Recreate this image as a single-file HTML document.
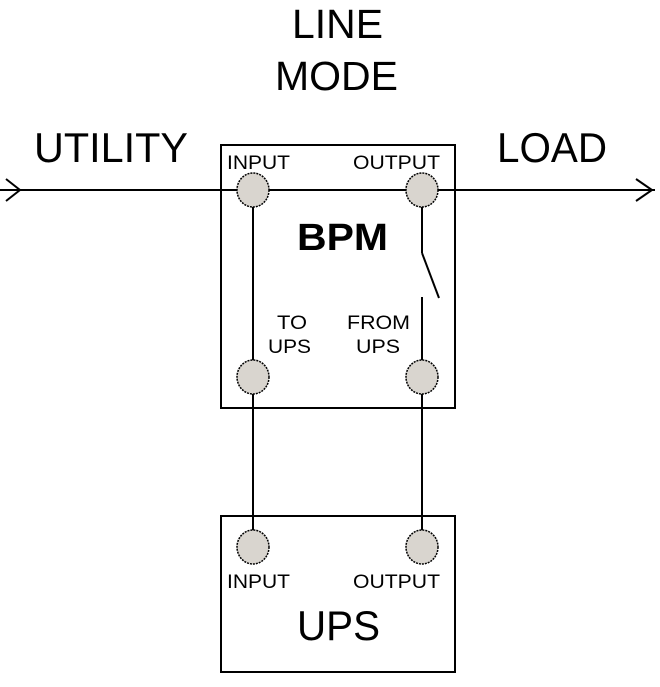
<!DOCTYPE html>
<html><head><style>body{margin:0;background:#fff}</style></head><body>
<svg width="660" height="682" xmlns="http://www.w3.org/2000/svg" font-family="Liberation Sans, Arial, sans-serif">
<rect width="660" height="682" fill="#fff"/>
<g stroke="#000" stroke-width="2" fill="none">
<rect x="221" y="145" width="234" height="263"/>
<rect x="221" y="516" width="234" height="156"/>
<line x1="0" y1="190" x2="655" y2="190"/>
<polyline points="6,179 20,190 6,201"/>
<polyline points="636,179 652,190 636,201"/>
<line x1="253" y1="190" x2="253" y2="531"/>
<line x1="422" y1="190" x2="422" y2="253"/>
<line x1="422" y1="253" x2="439" y2="298"/>
<line x1="422" y1="297" x2="422" y2="531"/>
</g>
<g fill="#d9d5cf" stroke="#000" stroke-width="1.5" stroke-dasharray="2,1">
<ellipse cx="253" cy="190" rx="16" ry="17"/><ellipse cx="422" cy="190" rx="16" ry="17"/>
<ellipse cx="253" cy="377" rx="16" ry="17"/><ellipse cx="422" cy="377" rx="16" ry="17"/>
<ellipse cx="253" cy="547" rx="16" ry="17"/><ellipse cx="422" cy="547" rx="16" ry="17"/>
</g>
<g fill="#000" lengthAdjust="spacingAndGlyphs">
<text x="292" y="38" font-size="41" textLength="91" lengthAdjust="spacingAndGlyphs">LINE</text>
<text x="275" y="90" font-size="41" textLength="123" lengthAdjust="spacingAndGlyphs">MODE</text>
<text x="34" y="162" font-size="42" textLength="154" lengthAdjust="spacingAndGlyphs">UTILITY</text>
<text x="497" y="162" font-size="42" textLength="110" lengthAdjust="spacingAndGlyphs">LOAD</text>
<text x="227" y="169" font-size="19" textLength="63" lengthAdjust="spacingAndGlyphs">INPUT</text>
<text x="353" y="169" font-size="19" textLength="87" lengthAdjust="spacingAndGlyphs">OUTPUT</text>
<text x="297" y="250" font-size="38" font-weight="bold" textLength="91" lengthAdjust="spacingAndGlyphs">BPM</text>
<text x="277" y="329" font-size="19" textLength="30" lengthAdjust="spacingAndGlyphs">TO</text>
<text x="268" y="353" font-size="19" textLength="43" lengthAdjust="spacingAndGlyphs">UPS</text>
<text x="347" y="329" font-size="19" textLength="63" lengthAdjust="spacingAndGlyphs">FROM</text>
<text x="356" y="353" font-size="19" textLength="44" lengthAdjust="spacingAndGlyphs">UPS</text>
<text x="227" y="588" font-size="19" textLength="63" lengthAdjust="spacingAndGlyphs">INPUT</text>
<text x="353" y="588" font-size="19" textLength="87" lengthAdjust="spacingAndGlyphs">OUTPUT</text>
<text x="297" y="640" font-size="42" textLength="83" lengthAdjust="spacingAndGlyphs">UPS</text>
</g>
</svg>
</body></html>
